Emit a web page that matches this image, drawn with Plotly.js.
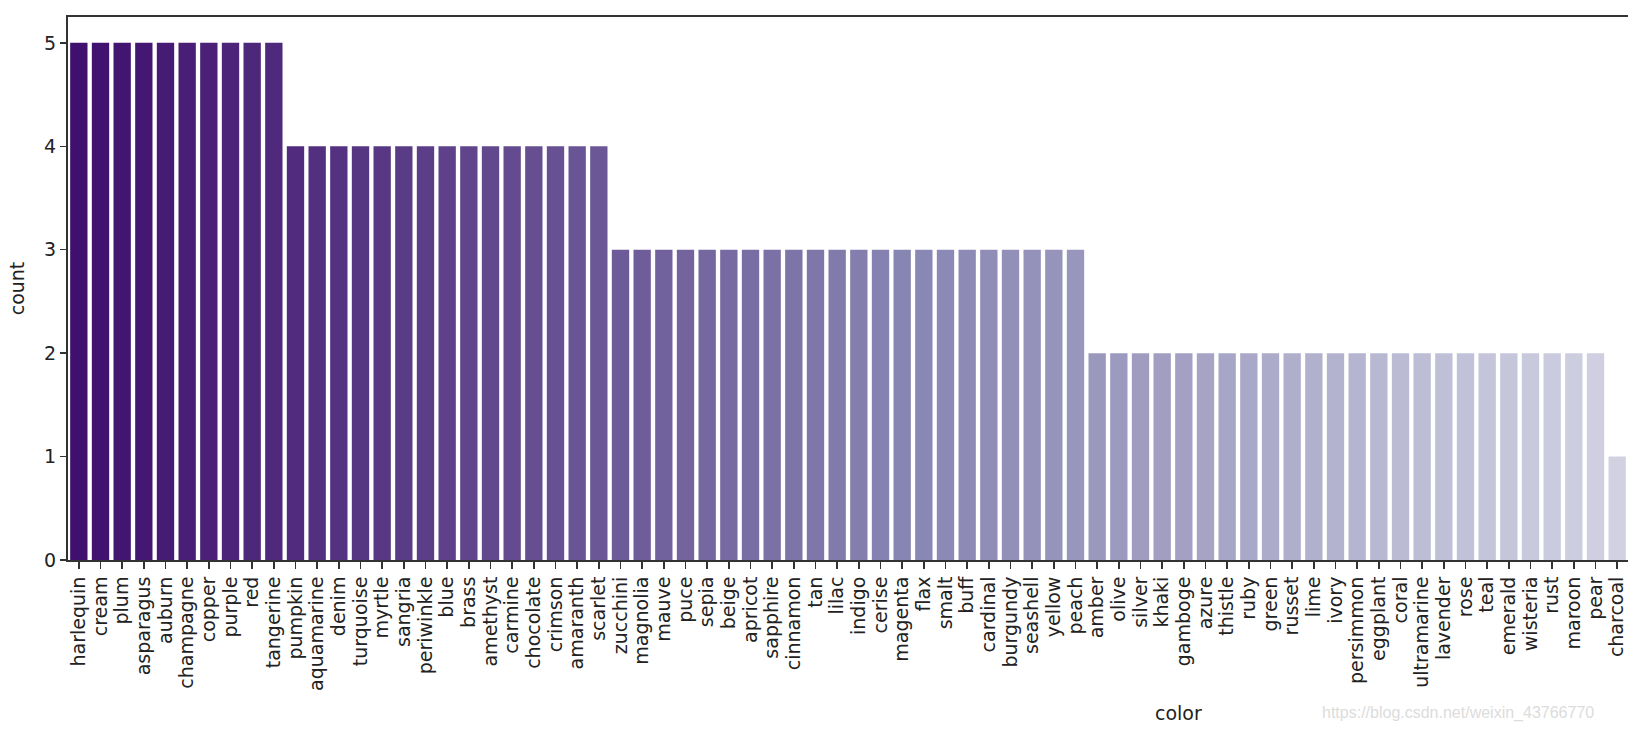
<!DOCTYPE html>
<html>
<head>
<meta charset="utf-8">
<script src="https://cdn.plot.ly/plotly-3.0.1.min.js"></script>
<style>
  html, body { margin: 0; padding: 0; background: #ffffff; }
  #chart { width: 1628px; height: 730px; }
</style>
</head>
<body>
<div id="chart"></div>
<script>
const categories = [
  "harlequin", "cream", "plum", "asparagus", "auburn", "champagne", "copper", "purple", "red", "tangerine",
  "pumpkin", "aquamarine", "denim", "turquoise", "myrtle", "sangria", "periwinkle", "blue", "brass", "amethyst",
  "carmine", "chocolate", "crimson", "amaranth", "scarlet",
  "zucchini", "magnolia", "mauve", "puce", "sepia", "beige", "apricot", "sapphire", "cinnamon", "tan",
  "lilac", "indigo", "cerise", "magenta", "flax", "smalt", "buff", "cardinal", "burgundy", "seashell",
  "yellow", "peach",
  "amber", "olive", "silver", "khaki", "gamboge", "azure", "thistle", "ruby", "green", "russet",
  "lime", "ivory", "persimmon", "eggplant", "coral", "ultramarine", "lavender", "rose", "teal", "emerald",
  "wisteria", "rust", "maroon", "pear",
  "charcoal"
];
const counts = [
  5, 5, 5, 5, 5, 5, 5, 5, 5, 5,
  4, 4, 4, 4, 4, 4, 4, 4, 4, 4, 4, 4, 4, 4, 4,
  3, 3, 3, 3, 3, 3, 3, 3, 3, 3, 3, 3, 3, 3, 3, 3, 3, 3, 3, 3, 3, 3,
  2, 2, 2, 2, 2, 2, 2, 2, 2, 2, 2, 2, 2, 2, 2, 2, 2, 2, 2, 2, 2, 2, 2, 2,
  1
];
const yTicks = [0, 1, 2, 3, 4, 5];

// Purples colormap stops (styling only)
const purpleStops = ["#fcfbfd", "#efedf5", "#dadaeb", "#bcbddc", "#9e9ac8", "#807dba", "#6a51a3", "#54278f", "#3f007d"];
function hexToRgb(h) { return [1,3,5].map(i => parseInt(h.substr(i,2),16)/255); }
function purples(t) {
  const n = purpleStops.length - 1;
  const p = Math.max(0, Math.min(1, t)) * n;
  const i = Math.min(n - 1, Math.floor(p));
  const f = p - i;
  const a = hexToRgb(purpleStops[i]), b = hexToRgb(purpleStops[i+1]);
  return a.map((v, k) => v + (b[k] - v) * f);
}
function desaturate(rgb, s) {
  const [r, g, b] = rgb;
  const mx = Math.max(r, g, b), mn = Math.min(r, g, b);
  const l = (mx + mn) / 2;
  if (mx === mn) return rgb;
  const d = mx - mn;
  let sat = l > 0.5 ? d / (2 - mx - mn) : d / (mx + mn);
  let h;
  if (mx === r) h = ((g - b) / d + (g < b ? 6 : 0));
  else if (mx === g) h = (b - r) / d + 2;
  else h = (r - g) / d + 4;
  h /= 6;
  sat *= s;
  const q = l < 0.5 ? l * (1 + sat) : l + sat - l * sat;
  const pp = 2 * l - q;
  function hue2rgb(t) {
    if (t < 0) t += 1; if (t > 1) t -= 1;
    if (t < 1/6) return pp + (q - pp) * 6 * t;
    if (t < 1/2) return q;
    if (t < 2/3) return pp + (q - pp) * (2/3 - t) * 6;
    return pp;
  }
  return [hue2rgb(h + 1/3), hue2rgb(h), hue2rgb(h - 1/3)];
}
const nBars = categories.length;
const barColors = categories.map((c, i) => {
  const rgb = desaturate(purples(1 - 0.7 * i / (nBars - 1)), 0.75);
  return "rgb(" + rgb.map(v => Math.round(v * 255)).join(",") + ")";
});

const FONT = "DejaVu Sans";
const data = [{
  type: "bar",
  x: categories,
  y: counts,
  marker: { color: barColors, line: { width: 0 } },
  hoverinfo: "x+y"
}];

const layout = {
  width: 1628,
  height: 730,
  margin: { l: 68, r: 0, t: 17, b: 170, pad: 0 },
  paper_bgcolor: "#ffffff",
  plot_bgcolor: "#ffffff",
  bargap: 0.2,
  showlegend: false,
  font: { family: FONT, color: "#222222" },
  xaxis: {
    type: "category",
    range: [-0.5, nBars - 0.5],
    tickmode: "linear", tick0: 0, dtick: 1,
    showline: true, linecolor: "#333333", linewidth: 2, mirror: true,
    ticks: "outside", ticklen: 7, tickwidth: 1.5, tickcolor: "#333333",
    tickangle: -90,
    tickfont: { family: FONT, size: 19, color: "#222222" },
    showgrid: false, zeroline: false, automargin: false
  },
  yaxis: {
    range: [0, 5.25],
    tickmode: "array", tickvals: yTicks, ticktext: yTicks.map(String),
    showline: true, linecolor: "#333333", linewidth: 2, mirror: false,
    ticks: "outside", ticklen: 6, tickwidth: 1.5, tickcolor: "#333333",
    tickfont: { family: FONT, size: 19, color: "#222222" },
    showgrid: false, zeroline: false, automargin: false,
    title: { text: "count", font: { family: FONT, size: 19, color: "#222222" }, standoff: 14 }
  },
  annotations: [
    { text: "color", xref: "paper", yref: "paper", x: 0.712, y: -0.2818,
      xanchor: "center", yanchor: "middle", showarrow: false,
      font: { family: FONT, size: 19, color: "#222222" } },
    { text: "https://blog.csdn.net/weixin_43766770", xref: "paper", yref: "paper", x: 0.9795, y: -0.2818,
      xanchor: "right", yanchor: "middle", showarrow: false,
      font: { family: "Liberation Sans", size: 16, color: "#dcdcdc" } }
  ]
};

Plotly.newPlot("chart", data, layout, { staticPlot: true, displayModeBar: false });
</script>
</body>
</html>
